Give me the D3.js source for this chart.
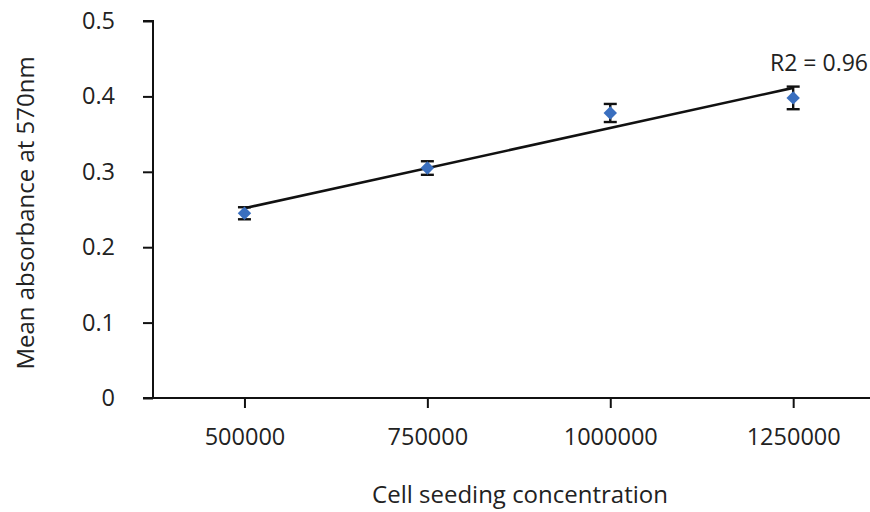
<!DOCTYPE html>
<html lang="en">
  <head>
    <meta charset="utf-8">
    <title>Cell seeding</title>
    <script src="https://d3js.org/d3.v7.min.js"></script>
    <style>
      body { margin: 0; background: #fff; }
      text { font-family: "Open Sans", "Noto Sans", sans-serif; fill: #222; }
    </style>
  </head>
  <body>
    <script>
      // data
      var concentrations = [500000, 750000, 1000000, 1250000];
      var absorbance = [0.245, 0.305, 0.378, 0.398];
      var errors = [0.008, 0.009, 0.012, 0.015];
      var xTicks = [500000, 750000, 1000000, 1250000];
      var yTicks = [0, 0.1, 0.2, 0.3, 0.4, 0.5];
      var r2Label = "R2 = 0.96";

      var width = 870,
          height = 512;

      var svg = d3.select("body").append("svg")
          .attr("width", width)
          .attr("height", height);

      var x = d3.scaleLinear().domain([375000, 1355000]).range([153, 870]);
      var y = d3.scaleLinear().domain([0, 0.5]).range([398, 21]);

      // y axis
      var yAxis = svg.append("g")
          .attr("transform", "translate(153,0)")
          .call(d3.axisLeft(y).tickValues(yTicks).tickSize(10).tickPadding(28)
            .tickFormat(function(d) { return d === 0 ? "0" : d3.format(".1f")(d); }));

      // x axis
      var xAxis = svg.append("g")
          .attr("transform", "translate(0,398)")
          .call(d3.axisBottom(x).tickValues(xTicks).tickSize(10).tickPadding(20)
            .tickFormat(d3.format("d")));

      [yAxis, xAxis].forEach(function(a) {
        a.select(".domain").attr("stroke", "#111").attr("stroke-width", 2);
        a.selectAll(".tick line").attr("stroke", "#111").attr("stroke-width", 2);
        a.selectAll(".tick text").attr("font-size", 23.5).attr("fill", "#222")
          .attr("font-family", "'Open Sans', sans-serif");
      });
      yAxis.select(".domain").attr("d", "M-10," + y(0.5) + "H0V" + y(0));
      xAxis.select(".domain").attr("d", "M143,0H870");

      // linear trendline from the points
      var n = concentrations.length,
          mx = d3.mean(concentrations),
          my = d3.mean(absorbance),
          sxy = d3.sum(concentrations, function(c, i) { return (c - mx) * (absorbance[i] - my); }),
          sxx = d3.sum(concentrations, function(c) { return (c - mx) * (c - mx); }),
          slope = sxy / sxx,
          icpt = my - slope * mx;
      var x0 = concentrations[0], x1 = concentrations[n - 1];

      // error bars
      var eb = svg.append("g").attr("stroke", "#111").attr("stroke-width", 2.4);
      concentrations.forEach(function(c, i) {
        var cx = x(c), top = y(absorbance[i] + errors[i]), bot = y(absorbance[i] - errors[i]);
        eb.append("line").attr("x1", cx).attr("x2", cx).attr("y1", top).attr("y2", bot);
        eb.append("line").attr("x1", cx - 6.5).attr("x2", cx + 6.5).attr("y1", top).attr("y2", top);
        eb.append("line").attr("x1", cx - 6.5).attr("x2", cx + 6.5).attr("y1", bot).attr("y2", bot);
      });

      svg.append("line")
          .attr("x1", x(x0)).attr("y1", y(icpt + slope * x0))
          .attr("x2", x(x1)).attr("y2", y(icpt + slope * x1))
          .attr("stroke", "#111").attr("stroke-width", 2.6);

      // markers
      svg.selectAll("path.pt")
          .data(concentrations)
        .enter().append("path")
          .attr("class", "pt")
          .attr("d", d3.symbol().type(d3.symbolDiamond2).size(115))
          .attr("transform", function(d, i) { return "translate(" + x(d) + "," + y(absorbance[i]) + ")"; })
          .attr("fill", "#3a6fbf");

      svg.append("text")
          .attr("x", 868).attr("y", 71)
          .attr("text-anchor", "end")
          .attr("font-size", 23)
          .text(r2Label);

      svg.append("text")
          .attr("x", 520).attr("y", 503)
          .attr("text-anchor", "middle")
          .attr("font-size", 24)
          .text("Cell seeding concentration");

      svg.append("text")
          .attr("transform", "translate(34,213)rotate(-90)")
          .attr("text-anchor", "middle")
          .attr("font-size", 24)
          .text("Mean absorbance at 570nm");
    </script>
  </body>
</html>
